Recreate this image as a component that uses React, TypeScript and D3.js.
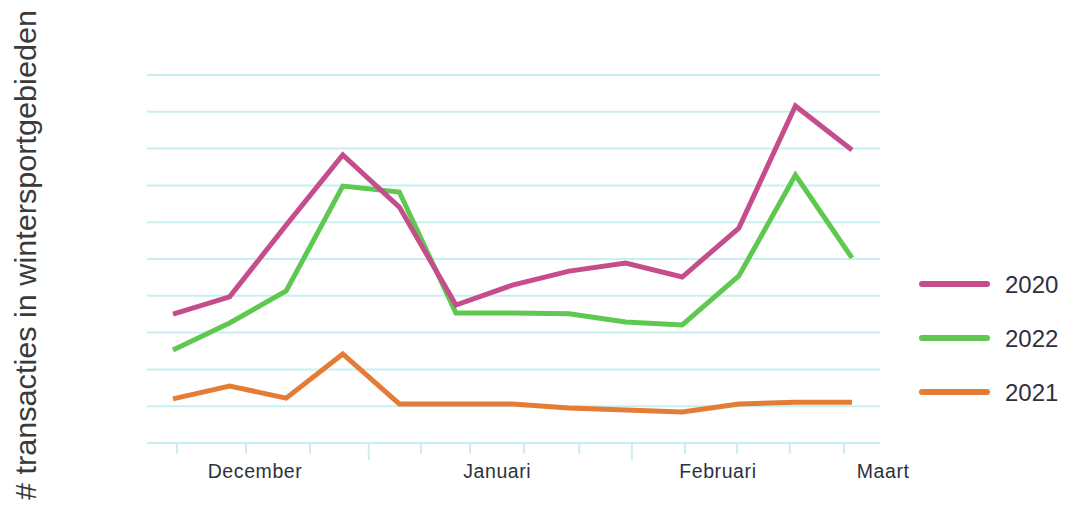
import * as d3 from 'd3';

const points = d3.range(13);
const series2020 = [3.5, 3.97, 5.92, 7.83, 6.41, 3.75, 4.29, 4.67, 4.89, 4.51, 5.84, 9.16, 7.96];
const series2022 = [2.53, 3.26, 4.13, 6.98, 6.82, 3.53, 3.53, 3.51, 3.29, 3.21, 4.54, 7.28, 5.03];
const series2021 = [1.2, 1.55, 1.22, 2.42, 1.06, 1.06, 1.06, 0.95, 0.9, 0.84, 1.06, 1.11, 1.11];
const gridValues = d3.range(0, 11);
const tickPositions = [0.07, 1.29, 2.42, 3.46, 4.38, 5.25, 6.2, 7.18, 8.11, 9.05, 9.97, 10.9, 11.86];
const longTicks = [3, 8];
const monthLabels = ['December', 'Januari', 'Februari', 'Maart'];
const monthPositions = [1.45, 5.73, 9.63, 12.55];

const legend = [
    {name: '2020', values: series2020, color: '#c64d8c'},
    {name: '2022', values: series2022, color: '#5ec850'},
    {name: '2021', values: series2021, color: '#e57c36'},
];
const drawOrder = ['2021', '2022', '2020'];

const font = '"Liberation Sans", Arial, sans-serif';

const App = () => {
    const x = d3.scaleLinear().domain([0, 12]).range([173, 852]);
    const y = d3.scaleLinear().domain([0, 10]).range([443, 75]);

    const line = d3.line<number>()
        .x((_, i) => x(points[i]))
        .y(d => y(d));

    return (
        <svg width={1068} height={505} style={{position: 'absolute', left: 0, top: 0, background: '#fff'}}>
            {gridValues.map(v => (
                <line key={v} x1={147} x2={880} y1={y(v)} y2={y(v)} stroke="#c8f0f3" strokeWidth={2} />
            ))}
            {tickPositions.map((t, i) => (
                <line key={i} x1={x(t)} x2={x(t)} y1={y(0)} y2={y(0) + (longTicks.includes(i) ? 17 : 11)} stroke="#c8f0f3" strokeWidth={2} />
            ))}
            {monthLabels.map((m, i) => (
                <text key={m} x={x(monthPositions[i])} y={478} textAnchor="middle" fontFamily={font} fontSize={19.5} letterSpacing={0.6} fill="#2c3140">{m}</text>
            ))}

            {drawOrder.map(name => {
                const s = legend.find(l => l.name === name)!;
                return <path key={name} d={line(s.values) ?? ''} fill="none" stroke={s.color} strokeWidth={5} strokeLinejoin="miter" strokeLinecap="butt" />;
            })}

            {legend.map((s, i) => (
                <g key={s.name} transform={`translate(0,${284 + i * 54})`}>
                    <line x1={922} x2={987} y1={0} y2={0} stroke={s.color} strokeWidth={6} strokeLinecap="round" />
                    <text x={1005} y={9} fontFamily={font} fontSize={24} fill="#2c3140">{s.name}</text>
                </g>
            ))}

            <text transform="translate(36,255) rotate(-90)" textAnchor="middle" fontFamily={font} fontSize={29} textLength={490} lengthAdjust="spacingAndGlyphs" fill="#3a3a3a">
                # transacties in wintersportgebieden
            </text>
        </svg>
    );
};

export default App;
